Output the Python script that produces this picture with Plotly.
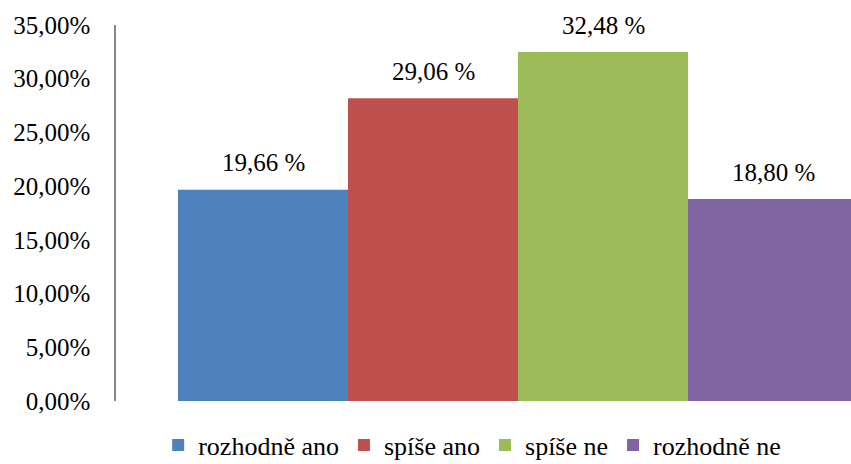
import plotly.graph_objects as go

categories = ["rozhodně ano", "spíše ano", "spíše ne", "rozhodně ne"]
# bar heights as drawn in the picture (the red bar is drawn lower than its label says)
values = [19.66, 28.18, 32.48, 18.80]
value_labels = ["19,66 %", "29,06 %", "32,48 %", "18,80 %"]
colors = ["#4F81BD", "#C0504D", "#9BBB59", "#8064A2"]
tick_vals = [0, 5, 10, 15, 20, 25, 30, 35]
tick_text = ["0,00%", "5,00%", "10,00%", "15,00%", "20,00%", "25,00%", "30,00%", "35,00%"]

FONT = "Times New Roman, Liberation Serif, serif"

fig = go.Figure()
for i, (name, v, lab, c) in enumerate(zip(categories, values, value_labels, colors)):
    fig.add_trace(go.Bar(
        x=[i], y=[v], width=[1], name=name,
        marker=dict(color=c, line=dict(width=0)),
        hoverinfo="skip",
    ))
    fig.add_annotation(
        x=i, y=v, xref="x", yref="y",
        text=lab,
        showarrow=False, yanchor="middle", yshift=27,
        font=dict(family=FONT, size=25, color="#000000"),
    )

fig.update_layout(
    width=851, height=464,
    margin=dict(l=116, r=0, t=25, b=63, pad=0, autoexpand=False),
    paper_bgcolor="white", plot_bgcolor="white",
    barmode="overlay",
    font=dict(family=FONT, size=25, color="#000000"),
    showlegend=True,
    legend=dict(
        orientation="h", x=0.4846, xanchor="center", y=-0.18, yanchor="bottom",
        font=dict(family=FONT, size=26, color="#000000"),
        bgcolor="rgba(0,0,0,0)", traceorder="normal", borderwidth=0,
    ),
    xaxis=dict(
        range=[-0.8647, 3.4588], showticklabels=False, showgrid=False,
        zeroline=False, showline=False, ticks="", fixedrange=True,
    ),
    yaxis=dict(
        range=[0, 35], tickvals=tick_vals, ticktext=tick_text,
        showgrid=False, zeroline=False, showline=True,
        linecolor="#868686", linewidth=1.5, ticks="",
        ticklabelstandoff=19,
        tickfont=dict(family=FONT, size=25, color="#000000"),
    ),
)

fig.write_html("out.html")
